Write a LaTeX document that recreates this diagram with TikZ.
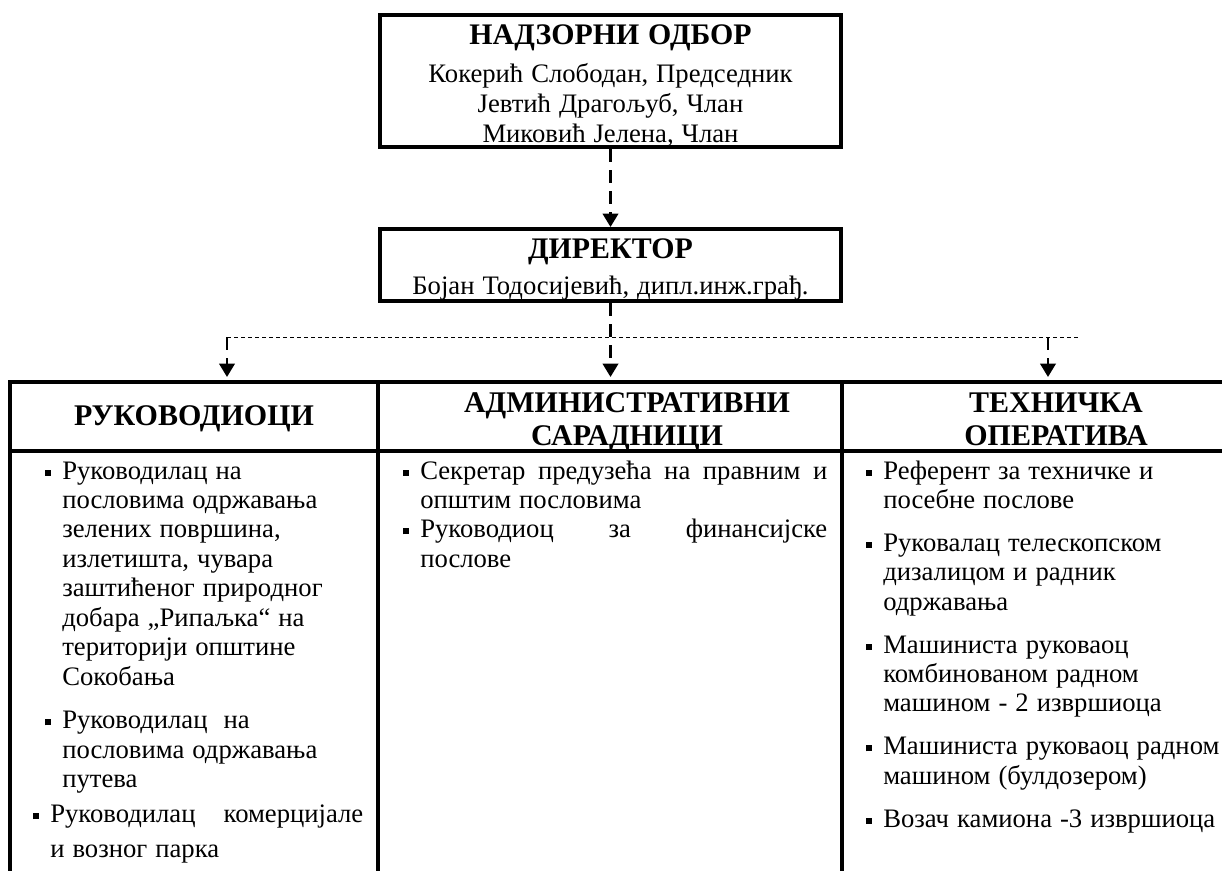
\documentclass[tikz,border=0pt]{standalone}
\usepackage{fontspec}
\setmainfont{Liberation Serif}
\usetikzlibrary{arrows.meta}

\newcommand{\widespace}{\spaceskip=0.3em\relax}
\newcommand{\bodyfont}{\fontsize{20}{22.1}\selectfont\widespace}
\newcommand{\boxfont}{\fontsize{20}{22.5}\selectfont\widespace}
\newcommand{\titlefont}{\bfseries\fontsize{22.4}{22.5}\selectfont\widespace}
\newcommand{\headfont}{\bfseries\fontsize{22.5}{24.75}\selectfont\widespace}
\newcommand{\boxstrut}{\rule{0pt}{22pt}}
\newcommand{\sqbullet}{\rule[2.6pt]{4.5pt}{4.5pt}}
\newcommand{\listentry}[2]{\noindent\hangindent=#1\hangafter=1\makebox[#1][r]{\sqbullet\hspace{8.5pt}}\ignorespaces#2\par}

\tikzset{
  orgbox/.style={draw, line width=3pt, align=center, inner sep=0pt, text width=340pt, execute at begin node=\boxfont},
  headtext/.style={anchor=base, align=center, inner sep=0pt, text width=270pt, execute at begin node=\headfont},
  coltext/.style={anchor=base west, align=left, inner sep=0pt, execute at begin node=\bodyfont},
  linkdash/.style={line width=2pt, dash pattern=on 9.75pt off 6pt, -{Triangle[length=10pt,width=11.5pt]}},
  forkline/.style={line width=0.75pt, dash pattern=on 3pt off 2.25pt},
  tablerule/.style={line width=3pt},
  tablecol/.style={line width=2.6pt}
}

\begin{document}
\begin{tikzpicture}[x=0.75pt,y=0.75pt,yscale=-1,xscale=1]
\useasboundingbox (0,0) rectangle (1222,871);

%Shape: Rectangle [board]
\node [orgbox, minimum width=345.75pt, minimum height=99pt] (board) at (610.5,81) {\boxstrut{\titlefont НАДЗОРНИ ОДБОР}\\[6pt]Кокерић Слободан, Председник\\Јевтић Драгољуб, Члан\\Миковић Јелена, Члан};
%Shape: Rectangle [director]
\node [orgbox, minimum width=345.75pt, minimum height=54pt] (director) at (610.5,265) {\boxstrut{\titlefont ДИРЕКТОР}\\[4.5pt]Бојан Тодосијевић, дипл.инж.грађ.};

%Shape: Table
\draw [tablerule] (8,382) -- (1230,382);
\draw [tablerule] (8,451) -- (1230,451);
\draw [tablecol] (10,380.5) -- (10,880);
\draw [tablecol] (378,380.5) -- (378,880);
\draw [tablecol] (842,380.5) -- (842,880);

% Text Node
\node [headtext] (lead) at (194,425) {РУКОВОДИОЦИ};
% Text Node
\node [headtext] (admin) at (627,412) {АДМИНИСТРАТИВНИ\\САРАДНИЦИ};
% Text Node
\node [headtext] (tech) at (1056,412) {ТЕХНИЧКА\\ОПЕРАТИВА};

%Fork
\coordinate (fork-l) at (227,337);
\coordinate (fork-r) at (1048,337);
\coordinate (fork-end) at (1078,337);
\coordinate (table-top) at (0,377);

\draw [linkdash] (board) -- (director);
\draw [forkline] (fork-l) -- (fork-end);
\draw [linkdash] (director) -- (director |- table-top);
\draw [linkdash] (fork-l) -- (fork-l |- table-top);
\draw [linkdash] (fork-r) -- (fork-r |- table-top);

% Text Node
\node [coltext, text width=247.5pt] (lead-list) at (33,479) {%
\listentry{21.75pt}{Руководилац на\newline пословима одржавања\newline зелених површина,\newline излетишта, чувара\newline заштићеног природног\newline добара „Рипаљка“ на\newline територији општине\newline Сокобања}
\vspace{10.5pt}
\listentry{21.75pt}{Руководилац\ \ на\newline пословима одржавања\newline путева}
\vspace{4pt}
\listentry{12.75pt}{Руководилац\hfill комерцијале\vspace{4.5pt}\newline и возног парка}};
% Text Node
\node [coltext, text width=318pt] (admin-list) at (403,479) {%
\listentry{12.75pt}{Секретар\hfill предузећа\hfill на\hfill правним\hfill и\newline општим пословима}
\vspace{0pt}
\listentry{12.75pt}{Руководиоц\hfill за\hfill финансијске\newline послове}};
% Text Node
\node [coltext, text width=285pt] (tech-list) at (866,479) {%
\listentry{12.75pt}{Референт за техничке и\newline посебне послове}
\vspace{10pt}
\listentry{12.75pt}{Руковалац телескопском\newline дизалицом и радник\newline одржавања}
\vspace{10pt}
\listentry{12.75pt}{Машиниста руковаоц\newline комбинованом радном\newline машином - 2 извршиоца}
\vspace{10pt}
\listentry{12.75pt}{Машиниста руковаоц радном\newline машином (булдозером)}
\vspace{10pt}
\listentry{12.75pt}{Возач камиона -3 извршиоца}};

\end{tikzpicture}
\end{document}
